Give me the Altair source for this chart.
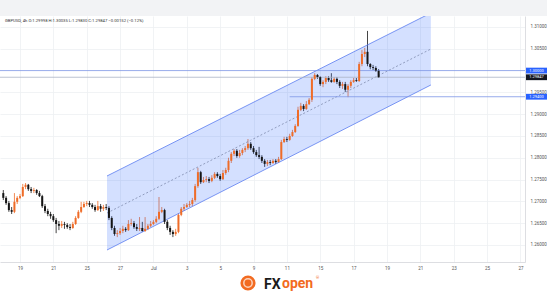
import altair as alt
import pandas as pd

# GBPUSD 4h candles, bar index 0 = 19 Jun 00:00
start_index = -6
first_open = 1.2719
closes = [
    1.2708, 1.2696, 1.2680, 1.2676, 1.2699, 1.2708,
    1.2712, 1.2733, 1.2738, 1.2728, 1.2724, 1.2726, 1.2719, 1.2712, 1.2689, 1.2678,
    1.2671, 1.2666, 1.2657, 1.2648, 1.2644, 1.2648, 1.2646, 1.2641, 1.2639, 1.2648,
    1.2662, 1.2676, 1.2687, 1.2694, 1.2696, 1.2692, 1.2687, 1.2680, 1.2689, 1.2683,
    1.2687, 1.2685, 1.2662, 1.2639, 1.2625, 1.2627, 1.2632, 1.2637, 1.2634, 1.2648,
    1.2650, 1.2641, 1.2637, 1.2639, 1.2632, 1.2637, 1.2644, 1.2648, 1.2653, 1.2660,
    1.2676, 1.2680, 1.2653, 1.2639, 1.2630, 1.2625, 1.2630, 1.2669, 1.2683, 1.2687,
    1.2692, 1.2694, 1.2703, 1.2735, 1.2767, 1.2744, 1.2749, 1.2751, 1.2747, 1.2754,
    1.2763, 1.2758, 1.2751, 1.2765, 1.2772, 1.2793, 1.2809, 1.2816, 1.2804, 1.2811,
    1.2818, 1.2822, 1.2832, 1.2822, 1.2813, 1.2806, 1.2802, 1.2793, 1.2786, 1.2790,
    1.2788, 1.2793, 1.2790, 1.2797, 1.2836, 1.2843, 1.2841, 1.2850, 1.2859, 1.2873,
    1.2910, 1.2919, 1.2912, 1.2923, 1.2933, 1.2981, 1.2990, 1.2985, 1.2969, 1.2974,
    1.2983, 1.2978, 1.2974, 1.2981, 1.2974, 1.2965, 1.2969, 1.2956, 1.2965, 1.2974,
    1.2978, 1.2976, 1.3015, 1.3038, 1.3043, 1.3015, 1.3008, 1.3006, 1.29998, 1.29847,
]
highs = [
    1.2726, 1.2712, 1.2701, 1.2687, 1.2719, 1.2712,
    1.2717, 1.2740, 1.2742, 1.2740, 1.2733, 1.2731, 1.2728, 1.2724, 1.2715, 1.2694,
    1.2683, 1.2676, 1.2671, 1.2662, 1.2655, 1.2655, 1.2653, 1.2650, 1.2648, 1.2653,
    1.2666, 1.2680, 1.2699, 1.2699, 1.2701, 1.2701, 1.2696, 1.2692, 1.2701, 1.2694,
    1.2692, 1.2694, 1.2689, 1.2666, 1.2644, 1.2634, 1.2639, 1.2644, 1.2641, 1.2657,
    1.2660, 1.2655, 1.2648, 1.2664, 1.2653, 1.2664, 1.2648, 1.2655, 1.2657, 1.2666,
    1.2710, 1.2687, 1.2683, 1.2657, 1.2644, 1.2634, 1.2637, 1.2673, 1.2687, 1.2694,
    1.2696, 1.2701, 1.2708, 1.2740, 1.2777, 1.2770, 1.2756, 1.2758, 1.2756, 1.2760,
    1.2767, 1.2767, 1.2763, 1.2772, 1.2777, 1.2800, 1.2813, 1.2820, 1.2820, 1.2818,
    1.2822, 1.2827, 1.2843, 1.2836, 1.2827, 1.2818, 1.2825, 1.2806, 1.2797, 1.2795,
    1.2795, 1.2797, 1.2797, 1.2802, 1.2841, 1.2848, 1.2848, 1.2855, 1.2864, 1.2877,
    1.2917, 1.2926, 1.2923, 1.2930, 1.2937, 1.2985, 1.2994, 1.2992, 1.2987, 1.2978,
    1.2987, 1.2987, 1.2994, 1.2985, 1.2985, 1.2978, 1.2974, 1.2974, 1.2969, 1.2978,
    1.2983, 1.2983, 1.3020, 1.3047, 1.3052, 1.3091, 1.3017, 1.3013, 1.3010, 1.30035,
]
lows = [
    1.2703, 1.2692, 1.2676, 1.2671, 1.2673, 1.2694,
    1.2705, 1.2710, 1.2728, 1.2724, 1.2719, 1.2719, 1.2715, 1.2710, 1.2685, 1.2673,
    1.2666, 1.2660, 1.2653, 1.2627, 1.2634, 1.2639, 1.2637, 1.2637, 1.2634, 1.2637,
    1.2646, 1.2660, 1.2673, 1.2685, 1.2689, 1.2687, 1.2683, 1.2676, 1.2678, 1.2676,
    1.2678, 1.2680, 1.2657, 1.2634, 1.2621, 1.2618, 1.2623, 1.2627, 1.2630, 1.2632,
    1.2644, 1.2637, 1.2632, 1.2632, 1.2630, 1.2630, 1.2634, 1.2641, 1.2646, 1.2650,
    1.2657, 1.2673, 1.2648, 1.2634, 1.2623, 1.2618, 1.2621, 1.2627, 1.2666, 1.2678,
    1.2685, 1.2687, 1.2689, 1.2699, 1.2731, 1.2740, 1.2742, 1.2744, 1.2742, 1.2744,
    1.2751, 1.2754, 1.2747, 1.2749, 1.2761, 1.2767, 1.2788, 1.2804, 1.2800, 1.2800,
    1.2806, 1.2813, 1.2818, 1.2818, 1.2809, 1.2802, 1.2797, 1.2788, 1.2779, 1.2781,
    1.2783, 1.2786, 1.2786, 1.2788, 1.2795, 1.2834, 1.2836, 1.2839, 1.2848, 1.2857,
    1.2871, 1.2907, 1.2907, 1.2910, 1.2921, 1.2928, 1.2978, 1.2981, 1.2965, 1.2962,
    1.2969, 1.2974, 1.2972, 1.2972, 1.2969, 1.2960, 1.2958, 1.2951, 1.2939, 1.2960,
    1.2972, 1.2974, 1.2974, 1.3010, 1.3031, 1.3010, 1.3003, 1.3001, 1.2997, 1.29830,
]

# time axis: one label every 12 bars (two trading days)
date_labels = ["19", "21", "25", "27", "Jul", "3", "5", "9", "11", "15",
               "17", "19", "21", "23", "25", "27"]
# 1.30000 is left out: the level tag shows that price on the scale
price_ticks = [1.26, 1.265, 1.27, 1.275, 1.28, 1.285, 1.29, 1.295, 1.305, 1.31]

# ascending channel: anchor bars and upper / middle / lower prices
channel_x = [31.3, 147.8]
channel_upper = [1.27582, 1.31321]
channel_mid = [1.26733, 1.30495]
channel_lower = [1.25884, 1.29670]

level_high = 1.30000
level_low = 1.29400
level_low_from = 97
last_price = closes[-1]

header = "GBPUSD, 4h  O:1.29998  H:1.30035  L:1.29830  C:1.29847  \u22120.00152 (\u22120.12%)"

opens = [first_open] + closes[:-1]
candles = pd.DataFrame({
    "idx": list(range(start_index, start_index + len(closes))),
    "open": opens, "high": highs, "low": lows, "close": closes,
})
candles["dir"] = ["up" if c >= o else "down" for o, c in zip(opens, closes)]

channel = pd.DataFrame({"x": channel_x, "upper": channel_upper,
                        "mid": channel_mid, "lower": channel_lower})

X_DOMAIN = [-7.19, 181.65]
Y_DOMAIN = [1.25609, 1.31252]
xs = alt.Scale(domain=X_DOMAIN, nice=False, zero=False)
ys = alt.Scale(domain=Y_DOMAIN, nice=False, zero=False)
FONT = "Roboto"
ORANGE = "#ef6c28"
DARK = "#151515"
BLUE = "#2962ff"

label_expr = "[" + ",".join("'%s'" % d for d in date_labels) + "][datum.value / 12]"

# one axis definition shared by every layer so the merged axes survive
x_axis = alt.Axis(values=list(range(0, 181, 12)), labelExpr=label_expr,
                  grid=True, gridColor="#eef0f3", gridWidth=0.8,
                  domainColor="#d4d6db", domainWidth=0.8, ticks=False,
                  labelFontSize=4.5, labelColor="#555", labelFont=FONT,
                  labelPadding=3, labelFlush=False, title=None)
y_axis = alt.Axis(orient="right", values=price_ticks, format=".5f",
                  grid=True, gridColor="#eef0f3", gridWidth=0.8,
                  domainColor="#d4d6db", domainWidth=0.8, ticks=False,
                  labelFontSize=4.5, labelColor="#555", labelFont=FONT,
                  labelPadding=5, title=None)


def X(field):
    return alt.X(field, scale=xs, axis=x_axis, title=None)


def Y(field):
    return alt.Y(field, scale=ys, axis=y_axis, title=None)


dir_color = alt.Color("dir:N", scale=alt.Scale(domain=["up", "down"], range=[ORANGE, DARK]),
                      legend=None)

top_band = alt.Chart(pd.DataFrame({"a": [0]})).mark_rect(color="#f2f3f5").encode(
    x=alt.value(0), x2=alt.value(547), y=alt.value(-16), y2=alt.value(0))

wicks = alt.Chart(candles).mark_rule(strokeWidth=0.8).encode(
    x=X("idx:Q"), y=Y("low:Q"), y2="high:Q", color=dir_color)

bodies = alt.Chart(candles).mark_rule(strokeWidth=2).encode(
    x=X("idx:Q"), y=Y("open:Q"), y2="close:Q", color=dir_color)

chan_fill = alt.Chart(channel).mark_area(color=BLUE, opacity=0.2, clip=True).encode(
    x=X("x:Q"), y=Y("upper:Q"), y2="lower:Q")
chan_up = alt.Chart(channel).mark_line(color="#5b7cf0", strokeWidth=0.8, clip=True).encode(
    x=X("x:Q"), y=Y("upper:Q"))
chan_lo = alt.Chart(channel).mark_line(color="#5b7cf0", strokeWidth=0.8, clip=True).encode(
    x=X("x:Q"), y=Y("lower:Q"))
chan_mid = alt.Chart(channel).mark_line(color="#7a86a8", strokeWidth=0.75,
                                        strokeDash=[2, 2], clip=True).encode(
    x=X("x:Q"), y=Y("mid:Q"))

line_high = alt.Chart(pd.DataFrame({"p": [level_high]})).mark_rule(
    color="#7d97e6", strokeWidth=0.8).encode(y=Y("p:Q"))
line_last = alt.Chart(pd.DataFrame({"p": [last_price]})).mark_rule(
    color="#aab3c4", strokeWidth=0.8).encode(y=Y("p:Q"))
line_low = alt.Chart(pd.DataFrame({"p": [level_low], "x0": [level_low_from],
                                   "x1": [X_DOMAIN[1]]})).mark_rule(
    color="#7d97e6", strokeWidth=0.8).encode(x=X("x0:Q"), x2="x1:Q", y=Y("p:Q"))

blue_tags = pd.DataFrame({"p": [level_high, level_low],
                          "t": ["%.5f" % level_high, "%.5f" % level_low]})
last_tag = pd.DataFrame({"p": [last_price], "t": ["%.5f" % last_price]})
blue_boxes = alt.Chart(blue_tags).mark_rule(strokeWidth=5.8, strokeCap="butt",
                                            color=BLUE).encode(
    x=alt.value(526), x2=alt.value(547), y=Y("p:Q"))
last_box = alt.Chart(last_tag).mark_rule(strokeWidth=5.8, strokeCap="butt",
                                         color="#131722").encode(
    x=alt.value(526), x2=alt.value(547), y=Y("p:Q"))
tag_text = alt.Chart(pd.concat([blue_tags, last_tag])).mark_text(
    color="white", fontSize=4, font=FONT, align="center", baseline="middle").encode(
    x=alt.value(536.5), y=Y("p:Q"), text="t:N")

title = alt.Chart(pd.DataFrame({"t": [header]})).mark_text(
    fontSize=4.2, font=FONT, color="#333", align="left", baseline="middle").encode(
    x=alt.value(5), y=alt.value(5), text="t:N")

logo_mark = alt.Chart(pd.DataFrame({"a": [0]})).mark_point(
    shape="circle", filled=True, size=230, color="#f26b21", opacity=1).encode(
    x=alt.value(248), y=alt.value(267))
logo_inner = alt.Chart(pd.DataFrame({"a": [0]})).mark_point(
    shape="circle", filled=False, size=70, color="white", strokeWidth=1.5).encode(
    x=alt.value(248), y=alt.value(267))
logo_fx = alt.Chart(pd.DataFrame({"t": ["FX"]})).mark_text(
    fontSize=14, fontWeight="bold", font=FONT, color="#1b1b1b",
    align="left", baseline="middle").encode(x=alt.value(264), y=alt.value(269), text="t:N")
logo_open = alt.Chart(pd.DataFrame({"t": ["open"]})).mark_text(
    fontSize=14, fontWeight="bold", font=FONT, color="#f26b21",
    align="left", baseline="middle").encode(x=alt.value(282), y=alt.value(268), text="t:N")
logo_reg = alt.Chart(pd.DataFrame({"t": ["\u00ae"]})).mark_text(
    fontSize=4, font=FONT, color="#f26b21", align="left", baseline="middle").encode(
    x=alt.value(316), y=alt.value(262), text="t:N")

chart = alt.layer(
    wicks, top_band, chan_fill, chan_mid, chan_up, chan_lo,
    line_high, line_last, line_low,
    bodies, blue_boxes, last_box, tag_text, title,
    logo_mark, logo_inner, logo_fx, logo_open, logo_reg,
).properties(
    width=525, height=246,
    padding={"left": 0, "top": 16, "right": 22, "bottom": 38},
    autosize=alt.AutoSizeParams(type="none"),
    background="white",
).configure_view(strokeWidth=0)

chart.save("out.html", embed_options={"renderer": "svg", "actions": False})
